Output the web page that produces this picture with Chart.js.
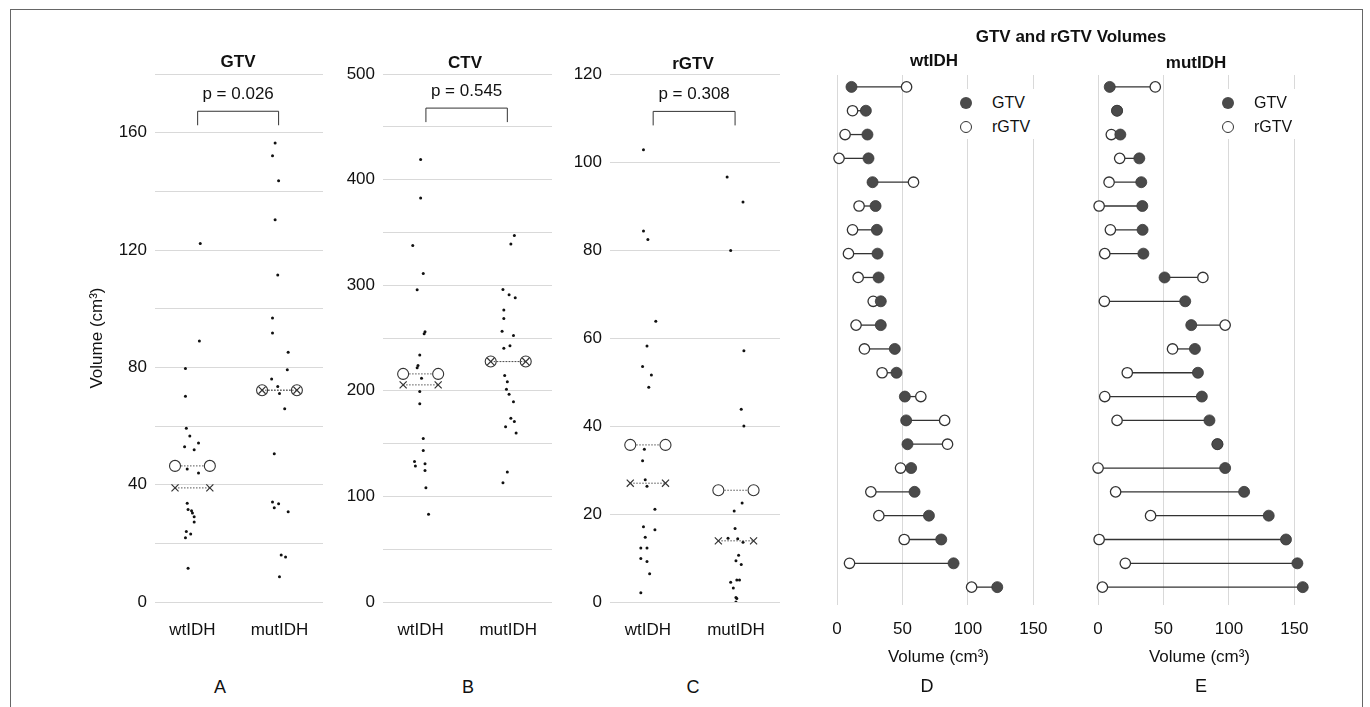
<!DOCTYPE html>
<html lang="en">
<head>
<meta charset="UTF-8">
<title>GTV, CTV and rGTV volumes by IDH status</title>
<script src="https://cdn.jsdelivr.net/npm/chart.js@4"></script>
<style>
  html, body { margin: 0; padding: 0; background: #fff; }
  body { width: 1370px; height: 707px; position: relative; overflow: hidden;
         font-family: "Liberation Sans", Arial, sans-serif; color: #111; }
  .frame { position: absolute; left: 10px; top: 9px; width: 1351px; height: 740px; border: 1px solid #666; }
  .panel { position: absolute; top: 0; }
  .txt { position: absolute; transform: translate(-50%, -50%); white-space: nowrap; }
  .bold { font-weight: bold; font-size: 17px; }
  .letter { font-size: 18px; }
  .legend { position: absolute; background: #fff; width: 90px; height: 50px; font-size: 16px; }
  .legend .sym { position: absolute; left: 5px; width: 12px; height: 12px; border-radius: 50%; box-sizing: border-box; }
  .legend .filled { background: #4a4a4a; }
  .legend .open { background: #fff; border: 1.3px solid #333; }
  .legend .lab { position: absolute; left: 37px; transform: translateY(-50%); }
</style>
</head>
<body>
<div class="frame"></div>

<div class="panel" style="left:78px; width:250px; height:650px;"><canvas id="chartA"></canvas></div>
<div class="panel" style="left:340px; width:217px; height:650px;"><canvas id="chartB"></canvas></div>
<div class="panel" style="left:565px; width:220px; height:650px;"><canvas id="chartC"></canvas></div>
<div class="panel" style="left:824px; width:232px; height:680px;"><canvas id="chartD"></canvas></div>
<div class="panel" style="left:1085px; width:232px; height:680px;"><canvas id="chartE"></canvas></div>

<div class="txt bold" style="left:238px; top:62px;">GTV</div>
<div class="txt bold" style="left:465px; top:63px;">CTV</div>
<div class="txt bold" style="left:693px; top:64px;">rGTV</div>
<div class="txt bold" style="left:1071px; top:37px;">GTV and rGTV Volumes</div>
<div class="txt bold" style="left:934px; top:61px;">wtIDH</div>
<div class="txt bold" style="left:1196px; top:63px;">mutIDH</div>

<div class="legend" style="left:955px; top:89px;">
  <span class="sym filled" style="top:8px;"></span><span class="lab" style="top:14px;">GTV</span>
  <span class="sym open" style="top:32px;"></span><span class="lab" style="top:38px;">rGTV</span>
</div>
<div class="legend" style="left:1217px; top:89px;">
  <span class="sym filled" style="top:8px;"></span><span class="lab" style="top:14px;">GTV</span>
  <span class="sym open" style="top:32px;"></span><span class="lab" style="top:38px;">rGTV</span>
</div>

<div class="txt letter" style="left:220px; top:687px;">A</div>
<div class="txt letter" style="left:468px; top:687px;">B</div>
<div class="txt letter" style="left:693px; top:687px;">C</div>
<div class="txt letter" style="left:927px; top:686px;">D</div>
<div class="txt letter" style="left:1201px; top:686px;">E</div>

<script>
// groups
const groups = ['wtIDH', 'mutIDH'];

// A: GTV (jitter = horizontal offset, in category units)
const gtvWt = [122.2, 89.0, 79.6, 70.1, 59.2, 56.6, 54.2, 52.9, 51.9, 45.3, 44.0, 33.7, 31.5, 31.1, 30.3, 29.1, 27.3, 24.0, 23.2, 21.9, 11.5];
const gtvWtJit = [0.09, 0.08, -0.08, -0.08, -0.07, -0.03, 0.07, -0.09, 0.02, -0.06, 0.07, -0.06, -0.05, -0.01, 0.0, 0.02, 0.02, -0.07, -0.02, -0.08, -0.05];
const gtvMut = [156.5, 152.1, 143.6, 130.3, 111.5, 96.8, 91.7, 85.1, 79.2, 76.0, 73.5, 71.1, 65.9, 50.5, 34.1, 33.5, 32.1, 30.8, 16.0, 15.3, 8.6];
const gtvMutJit = [-0.05, -0.08, -0.01, -0.05, -0.02, -0.08, -0.08, 0.10, 0.09, -0.09, -0.02, 0.0, 0.06, -0.06, -0.08, -0.01, -0.06, 0.10, 0.02, 0.07, 0.0];
const gtvMean = [46.4, 72.2];
const gtvMedian = [38.9, 72.2];

// B: CTV
const ctvWt = [419, 382.6, 337.5, 311, 295.8, 256, 254, 234, 224, 221.8, 212, 199.3, 187.7, 154.9, 143.5, 133.1, 130.9, 128.7, 124.6, 108.2, 83];
const ctvWtJit = [0.0, 0.0, -0.09, 0.03, -0.04, 0.05, 0.04, -0.01, -0.03, -0.04, 0.01, -0.01, -0.01, 0.03, 0.03, -0.07, 0.05, -0.06, 0.05, 0.06, 0.09];
const ctvMut = [347, 339, 296, 291, 288, 276.6, 268.4, 256.4, 252.3, 242.6, 240.3, 214.5, 208.5, 201.5, 196.8, 189.6, 174, 171, 166, 160, 123, 113];
const ctvMutJit = [0.07, 0.03, -0.06, 0.01, 0.08, -0.05, -0.05, -0.07, 0.06, 0.02, -0.05, -0.04, -0.01, -0.02, 0.01, 0.06, 0.03, 0.07, -0.03, 0.09, -0.01, -0.06];
const ctvMean = [216.0, 227.7];
const ctvMedian = [205.6, 227.7];

// C: rGTV
const rgtvWt = [102.8, 84.3, 82.4, 63.8, 58.2, 53.5, 51.6, 48.8, 34.7, 32.1, 27.8, 26.3, 21.1, 17.1, 16.4, 14.7, 12.3, 12.3, 9.9, 9.2, 6.4, 2.1];
const rgtvWtJit = [-0.05, -0.05, 0.0, 0.09, -0.01, -0.06, 0.04, 0.01, -0.04, -0.06, -0.03, -0.01, 0.08, -0.05, 0.08, -0.03, -0.08, -0.01, -0.08, -0.01, 0.02, -0.08];
const rgtvMut = [96.6, 90.9, 79.9, 57.1, 43.8, 40.0, 22.5, 20.7, 16.7, 14.5, 14.4, 13.6, 10.6, 9.4, 8.5, 5.0, 5.0, 4.5, 3.2, 1.0, 0.8, 0.0];
const rgtvMutJit = [-0.10, 0.08, -0.06, 0.09, 0.06, 0.09, 0.07, -0.02, -0.01, -0.09, 0.02, 0.08, 0.03, 0.0, 0.06, 0.01, 0.04, -0.06, -0.03, 0.0, 0.01, 0.0];
const rgtvMean = [35.7, 25.4];
const rgtvMedian = [27.0, 13.9];

// p-values and bracket heights (y units)
const pValues = ['0.026', '0.545', '0.308'];
const bracketLevels = [167.3, 467.7, 111.5];

// D / E: paired volumes per patient, rows in order of GTV
const wtGtv = [11.0, 22.0, 23.2, 24.0, 27.1, 29.4, 30.4, 30.9, 31.7, 33.4, 33.4, 44.1, 45.4, 51.8, 52.8, 53.8, 56.6, 59.2, 70.2, 79.6, 89.0, 122.4];
const wtRgtv = [53.1, 11.8, 6.1, 1.5, 58.4, 16.8, 11.8, 8.7, 16.1, 27.6, 14.5, 20.9, 34.4, 64.0, 82.2, 84.4, 48.5, 25.8, 31.9, 51.3, 9.5, 102.8];
const mutGtv = [8.9, 14.5, 17.0, 31.5, 33.0, 33.8, 34.0, 34.6, 50.8, 66.6, 71.2, 74.0, 76.3, 79.3, 85.1, 91.2, 97.1, 111.6, 130.4, 143.6, 152.3, 156.4];
const mutRgtv = [43.7, 14.5, 10.1, 16.5, 8.4, 0.8, 9.4, 5.1, 80.1, 4.8, 97.1, 56.9, 22.3, 5.1, 14.5, 91.2, 0.0, 13.4, 40.1, 0.8, 20.8, 3.3];
const volumeTicks = [0, 50, 100, 150];

const FONT = '"Liberation Sans", Arial, sans-serif';
const GRID = '#d9d9d9';
const HALF = 0.2;

Chart.defaults.font.family = FONT;
Chart.defaults.color = '#111';

// bracket with p value above the two groups
const bracketPlugin = {
  id: 'pBracket',
  afterDatasetsDraw(chart, args, opts) {
    const xs = chart.scales.x, ys = chart.scales.y, ctx = chart.ctx;
    const yTop = ys.getPixelForValue(opts.level);
    const x0 = xs.getPixelForValue(0.06), x1 = xs.getPixelForValue(0.99);
    ctx.save();
    ctx.strokeStyle = '#333';
    ctx.lineWidth = 1;
    ctx.beginPath();
    ctx.moveTo(x0, yTop + 14);
    ctx.lineTo(x0, yTop);
    ctx.lineTo(x1, yTop);
    ctx.lineTo(x1, yTop + 14);
    ctx.stroke();
    ctx.fillStyle = '#111';
    ctx.font = '17px ' + FONT;
    ctx.textAlign = 'center';
    ctx.textBaseline = 'middle';
    ctx.fillText('p = ' + opts.p, (x0 + x1) / 2, yTop - 17);
    ctx.restore();
  }
};

// lines joining GTV and rGTV of the same patient
const connectorPlugin = {
  id: 'connectors',
  beforeDatasetsDraw(chart) {
    const a = chart.getDatasetMeta(0).data, b = chart.getDatasetMeta(1).data, ctx = chart.ctx;
    ctx.save();
    ctx.strokeStyle = '#333';
    ctx.lineWidth = 1.3;
    a.forEach((p, i) => {
      ctx.beginPath();
      ctx.moveTo(p.x, p.y);
      ctx.lineTo(b[i].x, b[i].y);
      ctx.stroke();
    });
    ctx.restore();
  }
};

// invisible tick marks give the label gap; side padding is dropped after fit
const hiddenTicks = len => ({ display: true, drawOnChartArea: false, drawTicks: true, tickLength: len, tickColor: 'rgba(0,0,0,0)', color: 'rgba(0,0,0,0)' });
const fixHeight = h => s => { s.height = h; s.paddingLeft = 0; s.paddingRight = 0; };

function stripChart(id, wt, wtJit, mut, mutJit, means, medians, yMax, step, labelStep, axisW, pIdx, yTitle) {
  const datasets = [];
  medians.forEach((m, g) => datasets.push({
    type: 'line', data: [{ x: g - HALF, y: m }, { x: g + HALF, y: m }],
    borderColor: '#555', borderWidth: 1, borderDash: [1.5, 1.5],
    pointStyle: 'crossRot', pointRadius: 5, pointBorderColor: '#333', pointBorderWidth: 1.2
  }));
  means.forEach((m, g) => datasets.push({
    type: 'line', data: [{ x: g - HALF, y: m }, { x: g + HALF, y: m }],
    borderColor: '#555', borderWidth: 1, borderDash: [1.5, 1.5],
    pointStyle: 'circle', pointRadius: 5.5, pointBackgroundColor: '#fff',
    pointBorderColor: '#333', pointBorderWidth: 1.1
  }));
  datasets.push({ data: wt.map((v, i) => ({ x: wtJit[i], y: v })), pointRadius: 1.5, backgroundColor: '#111', borderWidth: 0 });
  datasets.push({ data: mut.map((v, i) => ({ x: 1 + mutJit[i], y: v })), pointRadius: 1.5, backgroundColor: '#111', borderWidth: 0 });

  return new Chart(document.getElementById(id), {
    type: 'scatter',
    data: { datasets },
    options: {
      responsive: true, maintainAspectRatio: false, animation: false,
      layout: { autoPadding: false, padding: { top: 74, right: 5, bottom: 0, left: 0 } },
      plugins: {
        legend: { display: false }, tooltip: { enabled: false },
        pBracket: { p: pValues[pIdx], level: bracketLevels[pIdx] }
      },
      scales: {
        x: {
          type: 'linear', min: -0.43, max: 1.5,
          grid: hiddenTicks(18), border: { display: false },
          afterBuildTicks: s => { s.ticks = groups.map((g, i) => ({ value: i })); },
          afterFit: fixHeight(48),
          ticks: { callback: v => groups[v], font: { size: 17 }, color: '#111', padding: 0, maxRotation: 0, autoSkip: false }
        },
        y: {
          min: 0, max: yMax,
          grid: { color: GRID, lineWidth: 1, drawTicks: false }, border: { display: false },
          afterFit: s => { s.width = axisW; },
          ticks: { stepSize: step, callback: v => (v % labelStep === 0 ? v : ''), padding: 8, font: { size: 17 }, color: '#111' },
          title: { display: !!yTitle, text: yTitle || '', font: { size: 17 }, color: '#111', padding: { top: 9, bottom: 0 } }
        }
      }
    },
    plugins: [bracketPlugin]
  });
}

function pairChart(id, gtv, rgtv) {
  return new Chart(document.getElementById(id), {
    type: 'scatter',
    data: {
      datasets: [
        { label: 'GTV', data: gtv.map((v, i) => ({ x: v, y: i + 1 })), pointRadius: 5.5,
          backgroundColor: '#4a4a4a', borderColor: '#3a3a3a', borderWidth: 0.8 },
        { label: 'rGTV', data: rgtv.map((v, i) => ({ x: v, y: i + 1 })), pointRadius: 5.2,
          backgroundColor: '#fff', borderColor: '#333', borderWidth: 1.3 }
      ]
    },
    options: {
      responsive: true, maintainAspectRatio: false, animation: false,
      layout: { autoPadding: false, padding: { top: 75, right: 3, bottom: 5, left: 0 } },
      plugins: { legend: { display: false }, tooltip: { enabled: false } },
      scales: {
        x: {
          type: 'linear', min: -10, max: 165,
          grid: { color: GRID, lineWidth: 1, drawTicks: true, tickLength: 14, tickColor: 'rgba(0,0,0,0)' },
          border: { display: false },
          afterBuildTicks: s => { s.ticks = volumeTicks.map(v => ({ value: v })); },
          afterFit: fixHeight(70),
          ticks: { font: { size: 17 }, color: '#111', padding: 0, maxRotation: 0, autoSkip: false },
          title: { display: true, text: 'Volume (cm³)', font: { size: 17 }, color: '#111', padding: { top: 0, bottom: 7 } }
        },
        y: { type: 'linear', reverse: true, min: 0.5, max: 22.75, display: false }
      }
    },
    plugins: [connectorPlugin]
  });
}

stripChart('chartA', gtvWt, gtvWtJit, gtvMut, gtvMutJit, gtvMean, gtvMedian, 180, 20, 40, 77, 0, 'Volume (cm³)');
stripChart('chartB', ctvWt, ctvWtJit, ctvMut, ctvMutJit, ctvMean, ctvMedian, 500, 50, 100, 43, 1, null);
stripChart('chartC', rgtvWt, rgtvWtJit, rgtvMut, rgtvMutJit, rgtvMean, rgtvMedian, 120, 20, 20, 45, 2, null);
pairChart('chartD', wtGtv, wtRgtv);
pairChart('chartE', mutGtv, mutRgtv);
</script>
</body>
</html>
